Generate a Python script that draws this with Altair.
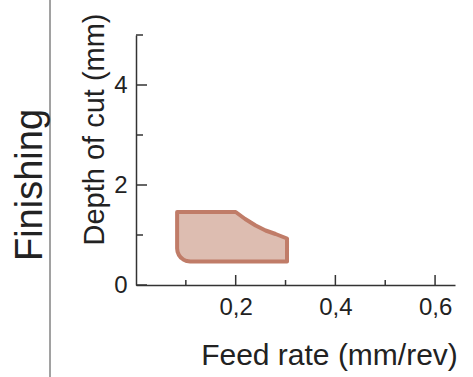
import altair as alt
import pandas as pd

# Region outline (feed rate mm/rev, depth of cut mm)
feed = [0.0825, 0.0834, 0.086, 0.0902, 0.0956, 0.1019, 0.1087, 0.200, 0.219, 0.240, 0.260, 0.280, 0.303]
depth_top = [1.46, 1.46, 1.46, 1.46, 1.46, 1.46, 1.46, 1.46, 1.32, 1.19, 1.09, 1.02, 0.93]
depth_bottom = [0.73, 0.663, 0.60, 0.546, 0.505, 0.479, 0.47, 0.47, 0.47, 0.47, 0.47, 0.47, 0.47]

x_major = [0.2, 0.4, 0.6]
x_minor = [0.1, 0.3, 0.5]
y_major = [0, 2, 4]
y_minor = [1, 3, 5]

FONT = "Liberation Sans"
INK = "#222222"
AXIS = "#333333"

region = pd.DataFrame({"feed": feed, "top": depth_top, "bottom": depth_bottom})

xs = alt.Scale(domain=[0, 0.64], nice=False)
ys = alt.Scale(domain=[0, 5], nice=False)

x_axis = alt.Axis(
    values=x_major, ticks=False, grid=False, domainColor=AXIS, domainWidth=1.5,
    labelExpr="replace(format(datum.value, '.1f'), '.', ',')",
    labelFont=FONT, labelFontSize=24, labelColor=INK, labelPadding=10,
    title="Feed rate (mm/rev)", titleFont=FONT, titleFontSize=30,
    titleFontWeight="normal", titleColor=INK, titleX=193, titleY=79,
    titleAlign="center", titleBaseline="alphabetic")
y_axis = alt.Axis(
    values=y_major, ticks=False, grid=False, domainColor=AXIS, domainWidth=1.5,
    labelFont=FONT, labelFontSize=24, labelColor=INK, labelPadding=9,
    title="Depth of cut (mm)", titleFont=FONT, titleFontSize=29,
    titleFontWeight="normal", titleColor=INK, titleX=-33, titleY=94,
    titleAngle=270, titleAlign="center", titleBaseline="alphabetic")

area = alt.Chart(region).mark_area(
    fill="#ddbdb1", stroke="#c07c68", strokeWidth=4, strokeJoin="round", opacity=1
).encode(
    x=alt.X("feed:Q", scale=xs, axis=x_axis),
    y=alt.Y("top:Q", scale=ys, axis=y_axis),
    y2="bottom:Q",
)

xmaj = alt.Chart(pd.DataFrame({"v": x_major})).mark_rule(color=AXIS, strokeWidth=1.5).encode(
    x=alt.X("v:Q", scale=xs, axis=x_axis), y=alt.value(250), y2=alt.value(240))
xmin = alt.Chart(pd.DataFrame({"v": x_minor})).mark_rule(color=AXIS, strokeWidth=1.5).encode(
    x=alt.X("v:Q", scale=xs, axis=x_axis), y=alt.value(250), y2=alt.value(245))
ymaj = alt.Chart(pd.DataFrame({"v": y_major})).mark_rule(color=AXIS, strokeWidth=1.5).encode(
    y=alt.Y("v:Q", scale=ys, axis=y_axis), x=alt.value(0), x2=alt.value(11))
ymin = alt.Chart(pd.DataFrame({"v": y_minor})).mark_rule(color=AXIS, strokeWidth=1.5).encode(
    y=alt.Y("v:Q", scale=ys, axis=y_axis), x=alt.value(0), x2=alt.value(7))

sep = alt.Chart(pd.DataFrame({"a": [0]})).mark_rule(color="#444444", strokeWidth=1).encode(
    x=alt.value(-86), y=alt.value(-35), y2=alt.value(342))

label = alt.Chart(pd.DataFrame({"t": ["Finishing"]})).mark_text(
    font=FONT, fontSize=38, color=INK, angle=270, align="center", baseline="alphabetic"
).encode(x=alt.value(-94), y=alt.value(150), text="t:N")

chart = alt.layer(area, xmaj, xmin, ymaj, ymin, sep, label).properties(
    width=319, height=250,
    autosize=alt.AutoSizeParams(type="none"),
    padding={"left": 136, "top": 35, "right": 18, "bottom": 92},
    background="white",
).configure_view(stroke=None)

chart.save("out.html", embed_options={"renderer": "svg", "actions": False})
